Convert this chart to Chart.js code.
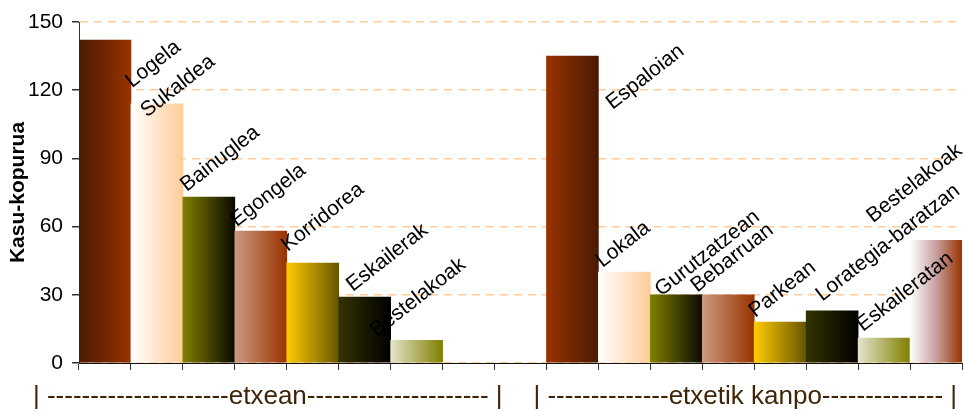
<!DOCTYPE html>
<html>
<head>
  <meta charset="UTF-8" />
  <title>Kasu-kopurua</title>
  <script src="https://cdn.jsdelivr.net/npm/chart.js"></script>
  <style>
    body { margin: 0; background: #fff; }
    #wrap { width: 965px; height: 412px; }
  </style>
</head>
<body>
<div id="wrap"><canvas id="c" width="965" height="412"></canvas></div>
<script>
// categories (two empty slots separate the groups)
const categories = ['Logela', 'Sukaldea', 'Bainuglea', 'Egongela', 'Korridorea', 'Eskailerak', 'Bestelakoak',
  '', '',
  'Espaloian', 'Lokala', 'Gurutzatzean', 'Bebarruan', 'Parkean', 'Lorategia-baratzan', 'Eskaileratan', 'Bestelakoak'];
const values = [142, 114, 73, 58, 44, 29, 10,
  null, null,
  135, 40, 30, 30, 18, 23, 11, 54];
const yTicks = [0, 30, 60, 90, 120, 150];
const groupNames = ['etxean', 'etxetik kanpo'];

// style: gradient stops per bar (left -> right)
const barGradients = [
  ['#4a1a02', '#993300'], ['#ffffff', '#ffcc99'], ['#808000', '#0a0a00'], ['#cc9980', '#993300'],
  ['#ffcc00', '#665500'], ['#333300', '#000000'], ['#e4e4cc', '#808000'],
  null, null,
  ['#993300', '#4a1a02'], ['#ffffff', '#ffcc99'], ['#808000', '#0a0a00'], ['#cc9980', '#993300'],
  ['#ffcc00', '#665500'], ['#333300', '#000000'], ['#e4e4cc', '#808000'], ['#ffffff', '#c8a0a0', '#993300']
];
// style: label start nudges from bar centre / bar top
const labelNudge = [
  [27, 48], [-10, 14], [-22, -5], [-24, -4], [-25, -11], [-12, -5], [-40, -3],
  null, null,
  [40, 54], [-22, -4], [-15, 2], [-31, -2], [-25, -4], [-10, -9], [-21, -6], [-63, -17]
];

const FONT = "'Liberation Sans', Arial, sans-serif";

function barFill(c) {
  const chart = c.chart;
  const stops = barGradients[c.dataIndex];
  if (!chart.chartArea || !stops) return '#993300';
  const xs = chart.scales.x;
  const mid = xs.getPixelForValue(c.dataIndex);
  const half = xs.width / categories.length / 2;
  const g = chart.ctx.createLinearGradient(mid - half, 0, mid + half, 0);
  stops.forEach((s, i) => g.addColorStop(i / (stops.length - 1), s));
  return g;
}

const labelPlugin = {
  id: 'barLabels',
  afterDatasetsDraw(chart) {
    const { ctx, scales: { x, y } } = chart;
    ctx.save();
    ctx.font = '21px ' + FONT;
    ctx.fillStyle = '#000';
    ctx.textAlign = 'left';
    ctx.textBaseline = 'alphabetic';
    values.forEach((v, i) => {
      if (v == null) return;
      const n = labelNudge[i];
      ctx.save();
      ctx.translate(x.getPixelForValue(i) + n[0], y.getPixelForValue(v) + n[1]);
      ctx.rotate(-38 * Math.PI / 180);
      ctx.fillText(categories[i], 0, 0);
      ctx.restore();
    });
    // group captions under the axis
    ctx.font = '26px ' + FONT;
    ctx.fillStyle = '#3f2508';
    ctx.textAlign = 'center';
    ctx.textBaseline = 'alphabetic';
    const d1 = '-'.repeat(21), d2 = '-'.repeat(14);
    ctx.fillText('| ' + d1 + groupNames[0] + d1 + ' |', x.getPixelForValue(3) + 7, 404);
    ctx.fillText('| ' + d2 + groupNames[1] + d2 + ' |', x.getPixelForValue(12.5) - 9, 404);
    ctx.restore();
  }
};

new Chart(document.getElementById('c'), {
  type: 'bar',
  data: {
    labels: categories,
    datasets: [{
      data: values,
      backgroundColor: barFill,
      borderWidth: 0,
      barPercentage: 1,
      categoryPercentage: 1
    }]
  },
  options: {
    responsive: false,
    animation: false,
    devicePixelRatio: 1,
    layout: { padding: { top: 22, right: 3, left: 0, bottom: 0 } },
    plugins: { legend: { display: false }, tooltip: { enabled: false } },
    scales: {
      x: {
        ticks: { display: false },
        grid: { display: true, drawOnChartArea: false, drawTicks: true, tickLength: 7, tickColor: '#333', offset: true },
        border: { color: '#111', width: 1 },
        afterFit: s => { s.height = 49; }
      },
      y: {
        min: 0, max: 150,
        afterBuildTicks: s => { s.ticks = yTicks.map(v => ({ value: v })); },
        ticks: { color: '#000', font: { family: FONT, size: 21 }, padding: 9 },
        grid: { color: '#ffcc99', tickColor: '#333', tickLength: 7, lineWidth: 1.5 },
        border: { color: '#333', dash: [8, 6] },
        title: { display: true, text: 'Kasu-kopurua', color: '#000', font: { family: FONT, size: 21, weight: 'bold' }, padding: { top: 6, bottom: 0 } },
        afterFit: s => { s.width = 79; }
      }
    }
  },
  plugins: [labelPlugin]
});
</script>
</body>
</html>
